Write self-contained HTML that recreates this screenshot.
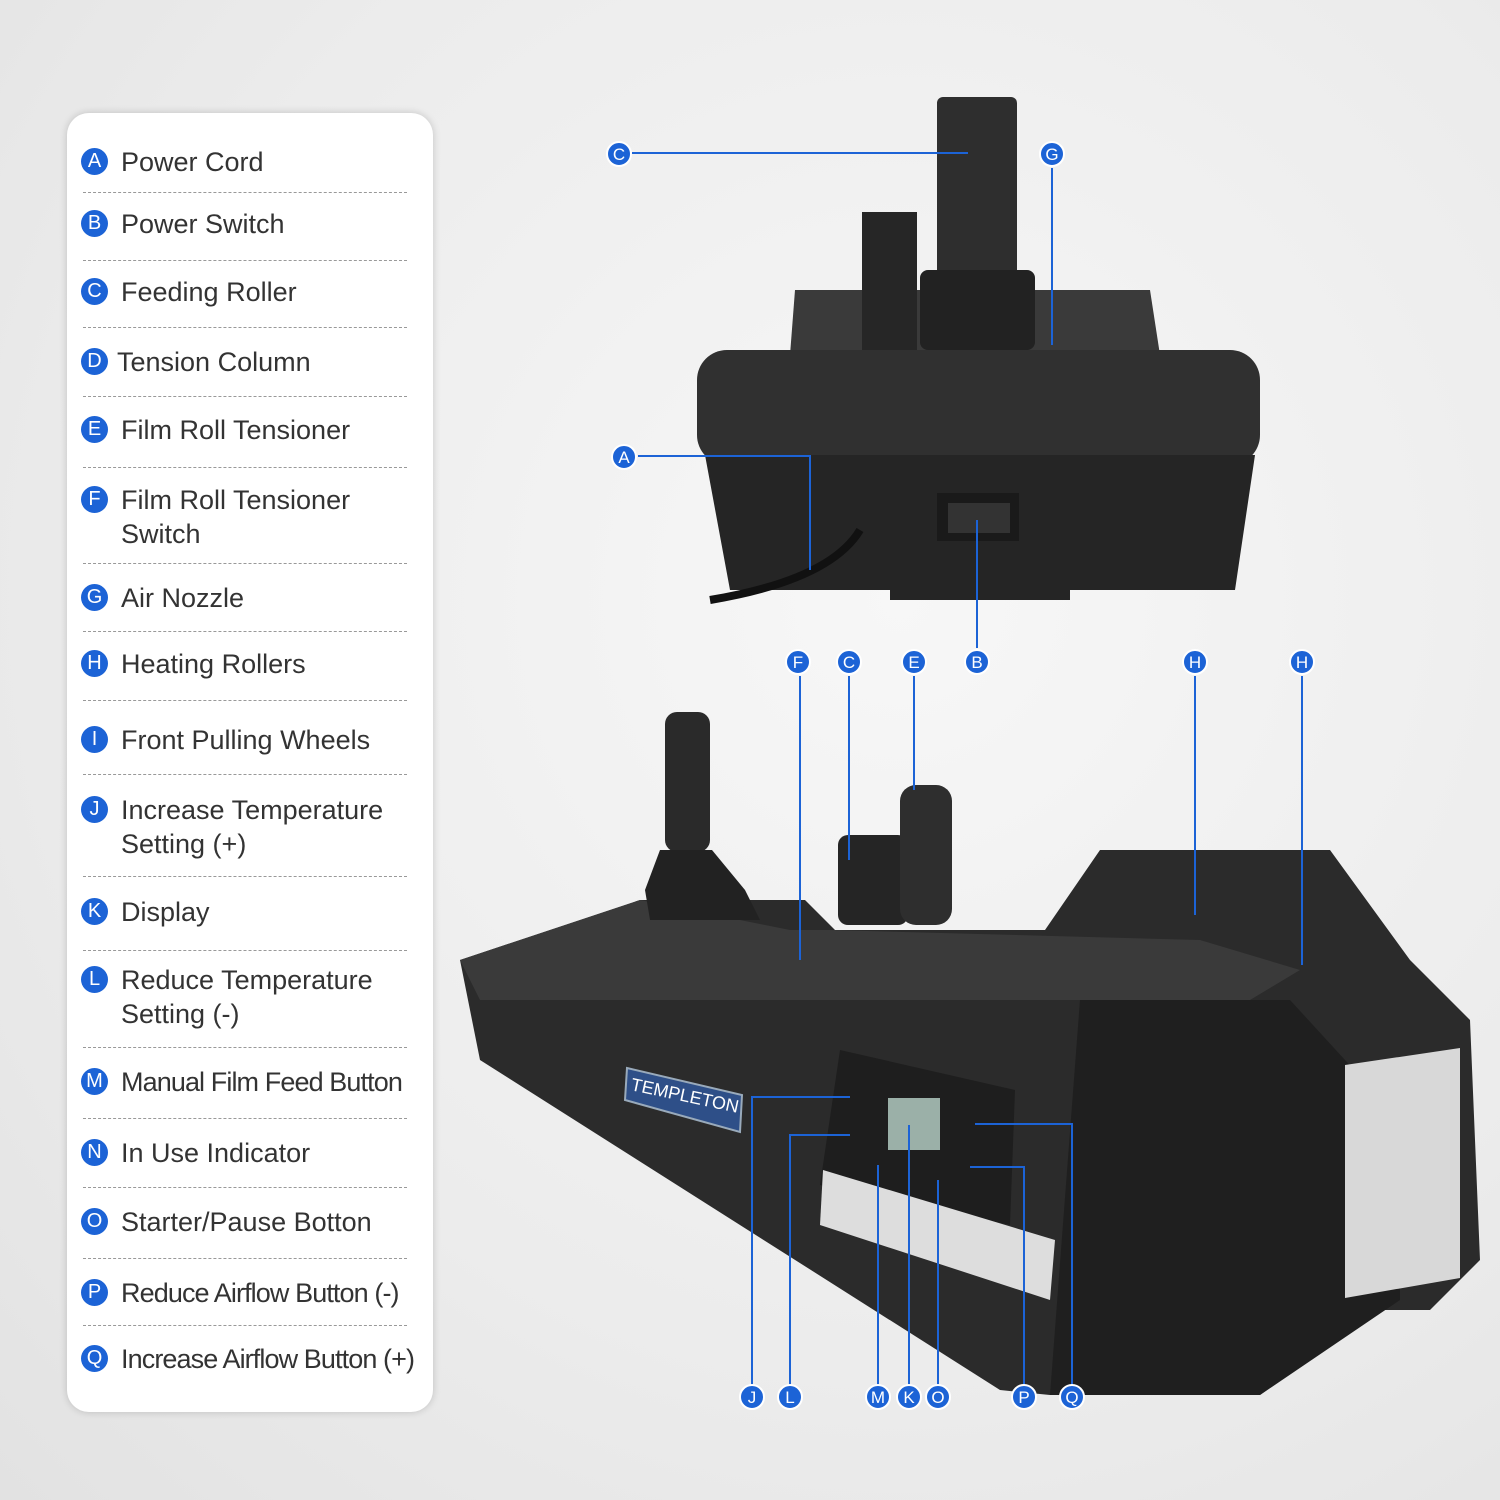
<!DOCTYPE html>
<html><head><meta charset="utf-8"><style>
html,body{margin:0;padding:0}
body{width:1500px;height:1500px;position:relative;overflow:hidden;background:radial-gradient(ellipse at 60% 40%,#f7f7f7 0%,#ececec 60%,#e2e2e2 100%);font-family:"Liberation Sans",sans-serif}
.panel{position:absolute;left:67px;top:113px;width:366px;height:1299px;background:#fff;border-radius:22px;box-shadow:0 0 8px rgba(0,0,0,.18)}
.it{position:absolute;left:14px;font-size:27px;color:#333;line-height:34px}
.it b{position:absolute;left:0;top:3px;width:27px;height:27px;border-radius:50%;background:#1c63d6;color:#fff;font-size:20px;font-weight:normal;text-align:center;line-height:27px}
.it span{position:absolute;left:40px;white-space:nowrap}
.hr{position:absolute;left:16px;width:324px;border-top:1.5px dashed #999}
.t{letter-spacing:-0.9px}
svg{position:absolute;left:0;top:0}
</style></head><body>
<div class="panel">
<div class="it" style="top:32px"><b>A</b><span>Power Cord</span></div>
<div class="hr" style="top:79px"></div>
<div class="it" style="top:94px"><b>B</b><span>Power Switch</span></div>
<div class="hr" style="top:147px"></div>
<div class="it" style="top:162px"><b>C</b><span>Feeding Roller</span></div>
<div class="hr" style="top:214px"></div>
<div class="it" style="top:232px"><b>D</b><span style="left:36px">Tension Column</span></div>
<div class="hr" style="top:283px"></div>
<div class="it" style="top:300px"><b>E</b><span>Film Roll Tensioner</span></div>
<div class="hr" style="top:354px"></div>
<div class="it" style="top:370px"><b>F</b><span>Film Roll Tensioner<br>Switch</span></div>
<div class="hr" style="top:450px"></div>
<div class="it" style="top:468px"><b>G</b><span>Air Nozzle</span></div>
<div class="hr" style="top:518px"></div>
<div class="it" style="top:534px"><b>H</b><span>Heating Rollers</span></div>
<div class="hr" style="top:587px"></div>
<div class="it" style="top:610px"><b>I</b><span>Front Pulling Wheels</span></div>
<div class="hr" style="top:661px"></div>
<div class="it" style="top:680px"><b>J</b><span>Increase Temperature<br>Setting (+)</span></div>
<div class="hr" style="top:763px"></div>
<div class="it" style="top:782px"><b>K</b><span>Display</span></div>
<div class="hr" style="top:837px"></div>
<div class="it" style="top:850px"><b>L</b><span>Reduce Temperature<br>Setting (-)</span></div>
<div class="hr" style="top:934px"></div>
<div class="it" style="top:952px"><b>M</b><span class="t">Manual Film Feed Button</span></div>
<div class="hr" style="top:1005px"></div>
<div class="it" style="top:1023px"><b>N</b><span>In Use Indicator</span></div>
<div class="hr" style="top:1074px"></div>
<div class="it" style="top:1092px"><b>O</b><span>Starter/Pause Botton</span></div>
<div class="hr" style="top:1145px"></div>
<div class="it" style="top:1163px"><b>P</b><span class="t">Reduce Airflow Button (-)</span></div>
<div class="hr" style="top:1212px"></div>
<div class="it" style="top:1229px"><b>Q</b><span class="t">Increase Airflow Button (+)</span></div>
</div>
<svg width="1500" height="1500" viewBox="0 0 1500 1500">
<path d="M795 290 L1150 290 L1160 355 L790 355 Z" fill="#3a3a3a"/>
<rect x="862" y="212" width="55" height="140" fill="#262626"/>
<rect x="937" y="97" width="80" height="190" rx="6" fill="#2e2e2e"/>
<rect x="920" y="270" width="115" height="80" rx="8" fill="#222"/>
<rect x="697" y="350" width="563" height="115" rx="30" fill="#303030"/>
<path d="M705 455 L1255 455 L1235 590 L1070 590 L1070 600 L890 600 L890 590 L730 590 Z" fill="#252525"/>
<rect x="937" y="493" width="82" height="48" fill="#1a1a1a"/>
<rect x="948" y="503" width="62" height="30" fill="#333"/>
<path d="M860 530 Q830 580 710 600" stroke="#111" stroke-width="8" fill="none"/>
<path d="M460 960 L640 900 L805 900 L835 930 L1045 930 L1100 850 L1330 850 L1410 960 L1470 1020 L1480 1260 L1430 1310 L1380 1310 L1260 1395 L1050 1395 L1000 1390 L480 1060 Z" fill="#2b2b2b"/>
<path d="M460 960 L640 900 L790 930 L830 930 L1200 940 L1300 970 L1250 1000 L1000 1000 L480 1000 Z" fill="#3a3a3a"/>
<path d="M1080 1000 L1290 1000 L1400 1120 L1400 1300 L1260 1395 L1050 1395 Z" fill="#1f1f1f"/>
<path d="M1345 1065 L1460 1048 L1460 1278 L1345 1298 Z" fill="#d8d8d8"/>
<rect x="665" y="712" width="45" height="140" rx="12" fill="#2a2a2a"/>
<path d="M660 850 L712 850 L745 890 L760 920 L650 920 L645 890 Z" fill="#222"/>
<rect x="838" y="835" width="70" height="90" rx="10" fill="#252525"/>
<rect x="900" y="785" width="52" height="140" rx="16" fill="#2e2e2e"/>
<path d="M840 1050 L1015 1090 L1010 1225 L820 1185 Z" fill="#1e1e1e"/>
<path d="M823 1170 L1055 1240 L1050 1300 L820 1225 Z" fill="#ddd"/>
<rect x="888" y="1098" width="52" height="52" fill="#9bb0a8"/>
<path d="M627 1068 L742 1095 L740 1132 L625 1100 Z" fill="#2e4f88" stroke="#9ab" stroke-width="2"/>
<text x="630" y="1090" fill="#fff" font-size="18" transform="rotate(12 630 1090)">TEMPLETON</text>
<g stroke="#1c63d6" stroke-width="2" fill="none">
<path d="M632 153 H968"/><path d="M1052 168 V345"/>
<path d="M638 456 H810 V570"/><path d="M977 520 V648"/>
<path d="M800 676 V960"/><path d="M849 676 V860"/><path d="M914 676 V790"/>
<path d="M1195 676 V915"/><path d="M1302 676 V965"/>
<path d="M752 1385 V1097 H850"/><path d="M790 1385 V1135 H850"/>
<path d="M878 1385 V1165"/><path d="M909 1385 V1125"/><path d="M938 1385 V1180"/>
<path d="M1024 1385 V1167 H970"/><path d="M1072 1385 V1124 H975"/>
</g>
<g font-family="Liberation Sans,sans-serif" font-size="17" fill="#fff" text-anchor="middle">
<g fill="#1c63d6" stroke="#fff" stroke-width="2">
<circle cx="619" cy="154" r="12"/><circle cx="1052" cy="154" r="12"/><circle cx="624" cy="457" r="12"/>
<circle cx="798" cy="662" r="12"/><circle cx="849" cy="662" r="12"/><circle cx="914" cy="662" r="12"/><circle cx="977" cy="662" r="12"/><circle cx="1195" cy="662" r="12"/><circle cx="1302" cy="662" r="12"/>
<circle cx="752" cy="1397" r="12"/><circle cx="790" cy="1397" r="12"/><circle cx="878" cy="1397" r="12"/><circle cx="909" cy="1397" r="12"/><circle cx="938" cy="1397" r="12"/><circle cx="1024" cy="1397" r="12"/><circle cx="1072" cy="1397" r="12"/>
</g>
<text x="619" y="160">C</text><text x="1052" y="160">G</text><text x="624" y="463">A</text>
<text x="798" y="668">F</text><text x="849" y="668">C</text><text x="914" y="668">E</text><text x="977" y="668">B</text><text x="1195" y="668">H</text><text x="1302" y="668">H</text>
<text x="752" y="1403">J</text><text x="790" y="1403">L</text><text x="878" y="1403">M</text><text x="909" y="1403">K</text><text x="938" y="1403">O</text><text x="1024" y="1403">P</text><text x="1072" y="1403">Q</text>
</g>
</svg>
</body></html>
